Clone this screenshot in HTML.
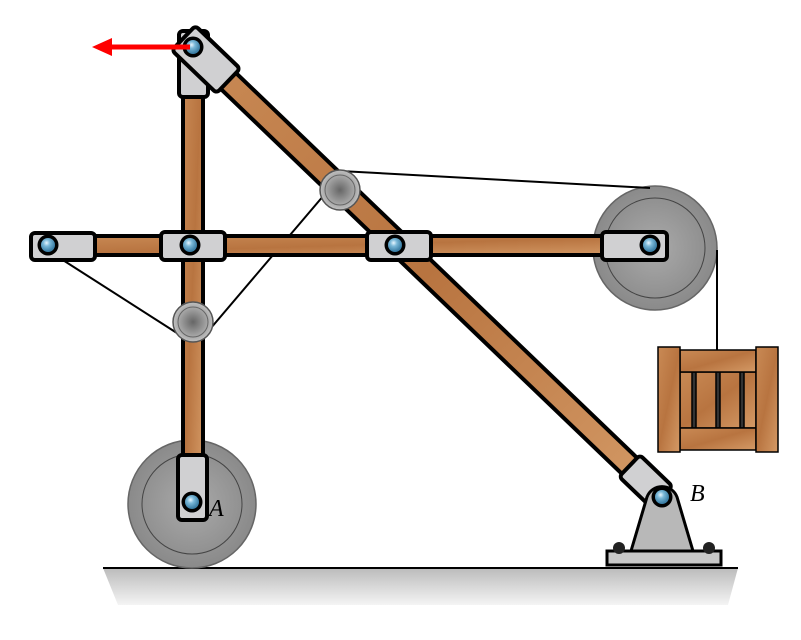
<!DOCTYPE html>
<html><head><style>body{margin:0;background:#fff}svg{display:block}</style></head><body>
<svg width="801" height="640" viewBox="0 0 801 640" xmlns="http://www.w3.org/2000/svg">
<defs>
<linearGradient id="wood" x1="0" y1="0" x2="1" y2="1"><stop offset="0" stop-color="#c98a55"/><stop offset="0.5" stop-color="#b87440"/><stop offset="1" stop-color="#d49a66"/></linearGradient>
<radialGradient id="pul" cx="0.5" cy="0.5" r="0.5"><stop offset="0" stop-color="#666"/><stop offset="1" stop-color="#c0c0c0"/></radialGradient>
<radialGradient id="wheel" cx="0.5" cy="0.5" r="0.5"><stop offset="0" stop-color="#aaa"/><stop offset="1" stop-color="#8a8a8a"/></radialGradient>
<radialGradient id="pin" cx="0.4" cy="0.35" r="0.6"><stop offset="0" stop-color="#e8f6ff"/><stop offset="0.4" stop-color="#7ab8d8"/><stop offset="1" stop-color="#3c7fa6"/></radialGradient>
<linearGradient id="gnd" x1="0" y1="0" x2="0" y2="1"><stop offset="0" stop-color="#bbb"/><stop offset="1" stop-color="#f4f4f4"/></linearGradient>
<g id="p"><circle r="10.5" fill="#000"/><circle r="7" fill="url(#pin)"/></g>
</defs>
<polygon points="103,568 738,568 728,605 118,605" fill="url(#gnd)"/>
<line x1="103" y1="568" x2="738" y2="568" stroke="#000" stroke-width="2"/>
<circle cx="192" cy="504" r="64" fill="url(#wheel)" stroke="#666" stroke-width="1.5"/>
<circle cx="192" cy="504" r="50" fill="none" stroke="#444" stroke-width="1"/>
<circle cx="655" cy="248" r="62" fill="url(#wheel)" stroke="#666" stroke-width="1.5"/>
<circle cx="655" cy="248" r="50" fill="none" stroke="#444" stroke-width="1"/>
<g stroke="#000" stroke-width="2" fill="none">
<line x1="55" y1="255" x2="180" y2="335"/>
<line x1="205" y1="335" x2="330" y2="188"/>
<line x1="340" y1="171" x2="650" y2="188"/>
<line x1="717" y1="250" x2="717" y2="350"/>
</g>
<rect x="183" y="45" width="20" height="460" fill="url(#wood)" stroke="#000" stroke-width="4"/>
<rect x="35" y="236" width="620" height="19" fill="url(#wood)" stroke="#000" stroke-width="4"/>
<line x1="193" y1="47" x2="662" y2="497" stroke="#000" stroke-width="26"/>
<line x1="193" y1="47" x2="662" y2="497" stroke="url(#wood)" stroke-width="18"/>
<circle cx="340" cy="190" r="20" fill="url(#pul)" stroke="#555" stroke-width="1.5"/>
<circle cx="340" cy="190" r="15" fill="none" stroke="#666"/>
<circle cx="193" cy="322" r="20" fill="url(#pul)" stroke="#555" stroke-width="1.5"/>
<circle cx="193" cy="322" r="15" fill="none" stroke="#666"/>
<g fill="#d0d0d2" stroke="#000" stroke-width="4">
<rect x="179" y="31" width="29" height="66" rx="4"/>
<rect x="178" y="455" width="29" height="65" rx="4"/>
<rect x="31" y="233" width="64" height="27" rx="4"/>
<rect x="161" y="232" width="64" height="28" rx="4"/>
<rect x="367" y="232" width="64" height="28" rx="4"/>
<rect x="602" y="232" width="65" height="28" rx="4"/>
<rect x="-13" y="-17" width="62" height="34" rx="4" transform="translate(193,47) rotate(43.8)"/>
<rect x="-45" y="-15" width="45" height="30" rx="4" transform="translate(662,497) rotate(43.8)"/>
</g>
<rect x="607" y="551" width="114" height="14" fill="#c8c8c8" stroke="#000" stroke-width="3"/>
<circle cx="619" cy="548" r="6" fill="#222"/><circle cx="709" cy="548" r="6" fill="#222"/>
<path d="M631,551 L647,497 A16,16 0 0 1 677,497 L693,551 Z" fill="#b8b8b8" stroke="#000" stroke-width="3"/>
<g stroke="#000" stroke-width="1.5" fill="url(#wood)">
<rect x="680" y="372" width="76" height="56"/>
<rect x="692" y="372" width="4" height="56" fill="#333"/><rect x="716" y="372" width="4" height="56" fill="#333"/><rect x="740" y="372" width="4" height="56" fill="#333"/>
<rect x="680" y="350" width="76" height="22"/>
<rect x="680" y="428" width="76" height="22"/>
<rect x="658" y="347" width="22" height="105"/>
<rect x="756" y="347" width="22" height="105"/>
</g>
<use href="#p" x="193" y="47"/><use href="#p" x="48" y="245"/><use href="#p" x="190" y="245"/>
<use href="#p" x="395" y="245"/><use href="#p" x="650" y="245"/><use href="#p" x="192" y="502"/>
<use href="#p" x="662" y="497"/>
<line x1="190" y1="47" x2="108" y2="47" stroke="#f00" stroke-width="5"/>
<polygon points="92,47 112,38 112,56" fill="#f00"/>
<text x="209" y="516" font-family="Liberation Serif,serif" font-style="italic" font-size="24">A</text>
<text x="690" y="501" font-family="Liberation Serif,serif" font-style="italic" font-size="24">B</text>
</svg>
</body></html>
